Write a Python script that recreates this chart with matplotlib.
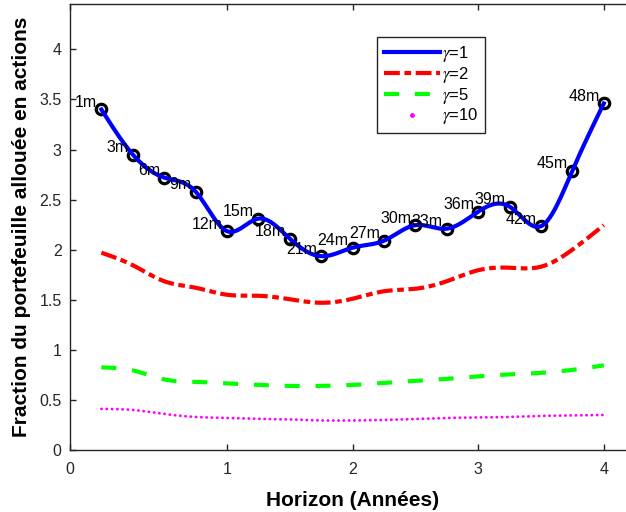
import numpy as np
import matplotlib.pyplot as plt
from matplotlib.lines import Line2D

plt.rcParams['font.family'] = ['Liberation Sans', 'DejaVu Sans']
plt.rcParams['mathtext.fontset'] = 'stix'

# horizons (en années) et étiquettes des points
horizon = [0.0, 0.25, 0.5, 0.75, 1.0, 1.25, 1.5, 1.75, 2.0,
           2.25, 2.5, 2.75, 3.0, 3.25, 3.5, 3.75, 4.0]
mois = ['1m', '3m', '6m', '9m', '12m', '15m', '18m', '21m', '24m',
        '27m', '30m', '33m', '36m', '39m', '42m', '45m', '48m']

# fraction allouée en actions pour chaque aversion au risque
gamma1 = [3.40, 2.95, 2.72, 2.58, 2.185, 2.31, 2.11, 1.935, 2.02,
          2.09, 2.245, 2.21, 2.38, 2.43, 2.235, 2.79, 3.46]
gamma2 = [1.97, 1.845, 1.685, 1.62, 1.55, 1.54, 1.505, 1.47, 1.51,
          1.585, 1.61, 1.685, 1.795, 1.82, 1.83, 2.0, 2.245]
gamma5 = [0.825, 0.795, 0.705, 0.68, 0.665, 0.65, 0.64, 0.64, 0.65,
          0.67, 0.69, 0.71, 0.735, 0.755, 0.77, 0.80, 0.845]
gamma10 = [0.41, 0.40, 0.36, 0.33, 0.32, 0.31, 0.305, 0.295, 0.295,
           0.30, 0.31, 0.32, 0.325, 0.33, 0.34, 0.345, 0.35]


def courbe_lisse(x, y, n=400):
    # spline cubique naturelle passant par les points
    x = np.asarray(x, float)
    y = np.asarray(y, float)
    h = np.diff(x)
    m = len(x)
    A = np.zeros((m, m))
    b = np.zeros(m)
    A[0, 0] = A[-1, -1] = 1
    for i in range(1, m - 1):
        A[i, i - 1] = h[i - 1]
        A[i, i] = 2 * (h[i - 1] + h[i])
        A[i, i + 1] = h[i]
        b[i] = 6 * ((y[i + 1] - y[i]) / h[i] - (y[i] - y[i - 1]) / h[i - 1])
    M = np.linalg.solve(A, b)
    xs = np.linspace(x[0], x[-1], n)
    k = np.clip(np.searchsorted(x, xs) - 1, 0, m - 2)
    t0 = x[k + 1] - xs
    t1 = xs - x[k]
    hk = h[k]
    ys = ((M[k] * t0 ** 3 + M[k + 1] * t1 ** 3) / (6 * hk)
          + (y[k] / hk - M[k] * hk / 6) * t0
          + (y[k + 1] / hk - M[k + 1] * hk / 6) * t1)
    return xs, ys


fig = plt.figure(figsize=(6.26, 5.12), dpi=100)
ax = fig.add_axes([0.1118, 0.1211, 0.9029, 0.8705])

ax.plot(horizon, gamma1, 'o', ls='none', mfc='none', mec='k',
        ms=7.5, mew=2.3, zorder=2)
l1, = ax.plot(*courbe_lisse(horizon, gamma1), color='blue', lw=3,
              zorder=3, label=r'$\gamma$=1')
l2, = ax.plot(*courbe_lisse(horizon, gamma2), color='red', lw=3,
              ls=(0, (3.8, 1.1, 1.6, 1.1)), label=r'$\gamma$=2')
l3, = ax.plot(*courbe_lisse(horizon, gamma5), color=(0, 1, 0), lw=3,
              ls=(0, (3.6, 3.8)), label=r'$\gamma$=5')
ax.plot(*courbe_lisse(horizon, gamma10), color='magenta', lw=2,
        ls=(0, (0.1, 1.8)), dash_capstyle='round')
l4 = Line2D([], [], ls='none', marker='o', ms=2.5, color='magenta',
            label=r'$\gamma$=10')

for x, y, m in zip(horizon, gamma1, mois):
    ax.annotate(m, (x, y), xytext=(-3, -0.5), textcoords='offset points',
                ha='right', va='bottom', fontsize=11.5, zorder=4)

ax.set_xlim(-0.25, 4.25)
ax.set_ylim(0, 4.45)
ax.set_xticks([-0.25, 1, 2, 3, 4])
ax.set_xticklabels(['0', '1', '2', '3', '4'])
ax.set_yticks(np.arange(0, 4.01, 0.5))
ax.set_yticklabels(['0', '0.5', '1', '1.5', '2', '2.5', '3', '3.5', '4'])
ax.tick_params(direction='in', length=4.5, width=1, colors='0.15',
               labelsize=11.5, top=True)
ax.tick_params(axis='x', pad=9)
ax.tick_params(axis='y', pad=6)
for s in ax.spines.values():
    s.set_color('0.15')
    s.set_linewidth(1)
ax.spines['right'].set_visible(False)

ax.set_xlabel('Horizon (Années)', fontsize=15, fontweight='bold', labelpad=9.5)
ax.set_ylabel('Fraction du portefeuille allouée en actions', fontsize=15,
              fontweight='bold', labelpad=6)

leg = ax.legend([l1, l2, l3, l4], [h.get_label() for h in (l1, l2, l3, l4)],
                loc='upper left', bbox_to_anchor=(0.543, 0.926),
                borderaxespad=0, fontsize=12, handlelength=3.4,
                handletextpad=0.1, labelspacing=0.05, borderpad=0.4,
                fancybox=False, framealpha=1, edgecolor='0.15')
leg.get_frame().set_linewidth(1)

fig.savefig('out.png', dpi=100)
